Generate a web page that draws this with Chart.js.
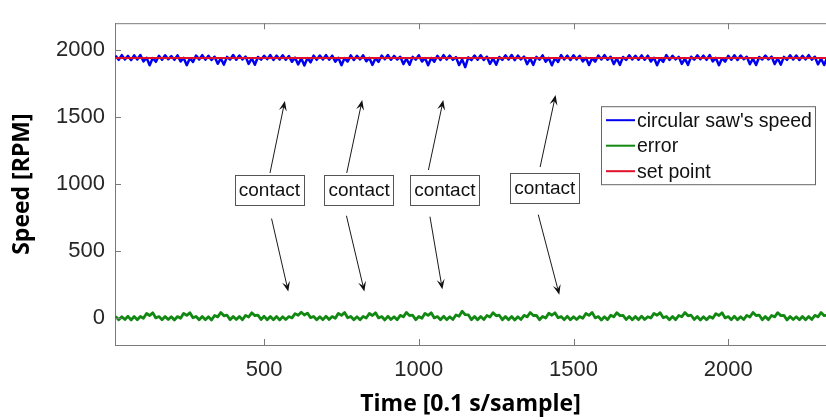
<!DOCTYPE html>
<html>
<head>
<meta charset="utf-8">
<script src="https://cdn.jsdelivr.net/npm/chart.js@4.4.1/dist/chart.umd.min.js"></script>
<style>
  html, body { margin: 0; padding: 0; background: #fff; }
  #wrap { width: 826px; height: 420px; }
</style>
</head>
<body>
<div id="wrap"><canvas id="speedChart" width="826" height="420"></canvas></div>
<script>
// --- Data ---

// time axis: one value every DT samples, starting at T0
const T0 = 20;
const DT = 10;
const X_MIN = 18;
const X_MAX = 2316;
const Y_MIN = -200;
const Y_MAX = 2200;
const xTickValues = [500, 1000, 1500, 2000];
const yTickValues = [0, 500, 1000, 1500, 2000];

const SET_POINT = 1940;

// circular saw speed [RPM] (noise band, dips at every contact)
const sawSpeed = [
  1958, 1927, 1962, 1930, 1956, 1925, 1960, 1929, 1963, 1915,
  1942, 1886, 1940, 1912, 1957, 1928, 1961, 1931, 1955, 1927,
  1960, 1914, 1941, 1887, 1939, 1911, 1959, 1930, 1962, 1928,
  1957, 1926, 1950, 1897, 1937, 1891, 1949, 1929, 1963, 1927,
  1959, 1930, 1951, 1896, 1938, 1890, 1948, 1928, 1957, 1931,
  1962, 1926, 1958, 1929, 1961, 1927, 1955, 1912, 1943, 1893,
  1938, 1884, 1940, 1908, 1958, 1927, 1959, 1930, 1962, 1928,
  1958, 1913, 1942, 1887, 1940, 1914, 1960, 1926, 1957, 1930,
  1961, 1916, 1941, 1889, 1938, 1912, 1959, 1931, 1962, 1927,
  1956, 1929, 1950, 1895, 1936, 1890, 1949, 1928, 1961, 1914,
  1940, 1886, 1941, 1913, 1957, 1926, 1962, 1930, 1958, 1927,
  1947, 1888, 1930, 1872, 1945, 1925, 1959, 1928, 1961, 1926,
  1950, 1896, 1937, 1890, 1948, 1927, 1960, 1929, 1963, 1925,
  1958, 1930, 1951, 1894, 1936, 1889, 1949, 1928, 1960, 1913,
  1941, 1886, 1939, 1911, 1962, 1929, 1958, 1926, 1961, 1930,
  1957, 1915, 1942, 1888, 1939, 1913, 1959, 1930, 1962, 1927,
  1950, 1895, 1937, 1889, 1948, 1926, 1961, 1929, 1957, 1928,
  1960, 1927, 1958, 1914, 1942, 1886, 1938, 1912, 1962, 1926,
  1957, 1930, 1949, 1896, 1936, 1889, 1950, 1928, 1960, 1931,
  1958, 1927, 1962, 1915, 1941, 1887, 1939, 1913, 1957, 1928,
  1961, 1926, 1959, 1931, 1950, 1894, 1935, 1888, 1948, 1929,
  1958, 1930, 1951, 1895, 1937, 1891, 1949, 1927, 1961, 1929,
  1959, 1926, 1957, 1930, 1962, 1928, 1950, 1893, 1936, 1888,
  1945
];

// error [RPM]
const errorSignal = [
  13, -12, 11, -10, 14, -13, 12, -11, 13, 0,
  35, 20, 40, 2, 12, -11, 13, -10, 11, -13,
  12, 0, 36, 21, 41, 3, 13, -12, 12, -11,
  11, -13, 20, 10, 42, 18, 22, -11, 13, -10,
  12, -12, 21, 9, 40, 19, 23, -10, 14, -12,
  12, -11, 13, -13, 11, -10, 12, 2, 34, 22,
  44, 24, 38, 4, 13, -12, 11, -11, 14, -10,
  12, 0, 36, 21, 42, 3, 13, -12, 11, -11,
  13, 1, 35, 20, 40, 2, 12, -13, 14, -10,
  11, -12, 21, 10, 43, 19, 22, -11, 13, 0,
  36, 21, 40, 2, 12, -12, 14, -11, 11, -10,
  24, 14, 52, 26, 25, -11, 13, -12, 12, -10,
  20, 9, 41, 18, 22, -12, 13, -11, 12, -13,
  11, -10, 21, 10, 42, 20, 21, -12, 13, 1,
  37, 22, 40, 3, 12, -11, 14, -12, 11, -10,
  13, 0, 35, 21, 43, 2, 12, -13, 11, -11,
  22, 10, 41, 19, 21, -10, 13, -12, 12, -11,
  14, -10, 11, 1, 36, 22, 41, 3, 13, -12,
  12, -11, 20, 11, 42, 18, 22, -10, 12, -13,
  11, -12, 13, 0, 34, 20, 40, 2, 12, -11,
  14, -12, 11, -10, 21, 9, 43, 20, 23, -12,
  13, -11, 20, 10, 41, 19, 21, -13, 12, -10,
  11, -12, 13, -11, 12, -10, 21, 10, 42, 19,
  22
];

// "contact" annotations, in data units (x = sample, y = RPM)
const contactX = [517, 807, 1084, 1407];
const contactY = [957, 955, 957, 972];
// arrows: [tailX, tailY, headX, headY]
const arrowsUp = [[519, 1083, 567, 1620], [767, 1083, 817, 1627], [1031, 1105, 1079, 1627], [1392, 1127, 1442, 1664]];
const arrowsDown = [[524, 743, 578, 199], [766, 764, 824, 199], [1036, 757, 1076, 215], [1386, 772, 1454, 175]];

// --- Styling ---
const AXIS_COLOR = '#7a7a7a';
const TICK_FONT = { family: "'Liberation Sans', Arial, sans-serif", size: 22 };
const TITLE_FONT = { family: "'Open Sans', sans-serif", size: 23, weight: 'bold' };

function toPoints(values) {
    return values.map((v, i) => ({ x: T0 + i * DT, y: v }));
}

function drawArrow(ctx, x1, y1, x2, y2) {
    const ang = Math.atan2(y2 - y1, x2 - x1);
    const len = 10, half = 4;
    ctx.beginPath();
    ctx.moveTo(x1, y1);
    ctx.lineTo(x2 - Math.cos(ang) * len * 0.6, y2 - Math.sin(ang) * len * 0.6);
    ctx.stroke();
    ctx.save();
    ctx.translate(x2, y2);
    ctx.rotate(ang);
    ctx.beginPath();
    ctx.moveTo(0, 0);
    ctx.lineTo(-len, -half);
    ctx.lineTo(-len * 0.6, 0);
    ctx.lineTo(-len, half);
    ctx.closePath();
    ctx.fill();
    ctx.restore();
}

// box ticks, arrows, text boxes and the legend
const decorPlugin = {
    id: 'decor',
    afterDatasetsDraw(chart) {
        const { ctx, chartArea: a, scales: { x, y } } = chart;
        ctx.save();

        // top edge of the box and inward ticks
        ctx.strokeStyle = AXIS_COLOR;
        ctx.lineWidth = 1;
        ctx.beginPath();
        ctx.moveTo(a.left, a.top + 0.5);
        ctx.lineTo(a.right, a.top + 0.5);
        x.ticks.forEach(t => {
            const px = Math.round(x.getPixelForValue(t.value)) + 0.5;
            ctx.moveTo(px, a.bottom);
            ctx.lineTo(px, a.bottom - 6);
            ctx.moveTo(px, a.top);
            ctx.lineTo(px, a.top + 6);
        });
        y.ticks.forEach(t => {
            const py = Math.round(y.getPixelForValue(t.value)) + 0.5;
            ctx.moveTo(a.left, py);
            ctx.lineTo(a.left + 6, py);
        });
        ctx.stroke();

        // arrows
        ctx.strokeStyle = '#1a1a1a';
        ctx.fillStyle = '#111';
        ctx.lineWidth = 1;
        arrowsUp.concat(arrowsDown).forEach(([tx, ty, hx, hy]) => {
            drawArrow(ctx,
                x.getPixelForValue(tx), y.getPixelForValue(ty),
                x.getPixelForValue(hx), y.getPixelForValue(hy));
        });

        // contact boxes
        ctx.font = "19px 'Liberation Sans', Arial, sans-serif";
        ctx.textAlign = 'center';
        ctx.textBaseline = 'middle';
        contactX.forEach((cx, i) => {
            const px = x.getPixelForValue(cx);
            const py = y.getPixelForValue(contactY[i]);
            const w = ctx.measureText('contact').width + 8;
            const h = 30;
            ctx.fillStyle = '#fff';
            ctx.fillRect(px - w / 2, py - h / 2, w, h);
            ctx.strokeStyle = '#555';
            ctx.strokeRect(Math.round(px - w / 2) + 0.5, Math.round(py - h / 2) + 0.5, Math.round(w), h);
            ctx.fillStyle = '#111';
            ctx.fillText('contact', px, py + 1);
        });

        // legend
        const lx = a.left + 486, ly = a.top + 83, lw = 214, lh = 78;
        ctx.fillStyle = '#fff';
        ctx.fillRect(lx, ly, lw, lh);
        ctx.strokeStyle = '#666';
        ctx.strokeRect(lx + 0.5, ly + 0.5, lw, lh);
        ctx.font = "19.5px 'Liberation Sans', Arial, sans-serif";
        ctx.textAlign = 'left';
        const legendOrder = [0, 1, 2];
        legendOrder.forEach((di, row) => {
            const ds = chart.data.datasets[di];
            const ry = ly + 14 + row * 25.5;
            ctx.strokeStyle = ds.borderColor;
            ctx.lineWidth = 2;
            ctx.beginPath();
            ctx.moveTo(lx + 5, ry);
            ctx.lineTo(lx + 34, ry);
            ctx.stroke();
            ctx.fillStyle = '#111';
            ctx.fillText(ds.label, lx + 36, ry + 1);
        });

        ctx.restore();
    }
};

new Chart(document.getElementById('speedChart'), {
    type: 'line',
    data: {
        datasets: [
            {
                label: "circular saw's speed",
                data: toPoints(sawSpeed),
                borderColor: '#0000f0',
                borderWidth: 2.5,
                borderJoinStyle: 'round',
                order: 1
            },
            {
                label: 'error',
                data: toPoints(errorSignal),
                borderColor: '#118811',
                borderWidth: 2.8,
                borderJoinStyle: 'round',
                order: 2
            },
            {
                label: 'set point',
                data: [{ x: X_MIN, y: SET_POINT }, { x: X_MAX, y: SET_POINT }],
                borderColor: '#e0102a',
                borderWidth: 2,
                order: 0
            }
        ]
    },
    options: {
        responsive: false,
        animation: false,
        elements: {
            point: { radius: 0 },
            line: { tension: 0 }
        },
        layout: { padding: { top: 14, right: 0, left: 0, bottom: 0 } },
        plugins: {
            legend: { display: false },
            tooltip: { enabled: false }
        },
        scales: {
            x: {
                type: 'linear',
                min: X_MIN,
                max: X_MAX,
                grid: { display: false, drawTicks: false },
                border: { display: true, color: AXIS_COLOR },
                afterBuildTicks: scale => { scale.ticks = xTickValues.map(v => ({ value: v })); },
                afterFit: scale => { scale.height = 75; },
                ticks: { font: TICK_FONT, color: '#262626', padding: 12, maxRotation: 0, autoSkip: false, callback: v => String(v) },
                title: { display: true, text: 'Time [0.1 s/sample]', font: TITLE_FONT, color: '#000', padding: { top: 0, bottom: 2 } }
            },
            y: {
                min: Y_MIN,
                max: Y_MAX,
                grid: { display: false, drawTicks: false },
                border: { display: true, color: AXIS_COLOR },
                afterBuildTicks: scale => { scale.ticks = yTickValues.map(v => ({ value: v })); },
                afterFit: scale => { scale.width = 115; },
                ticks: { font: TICK_FONT, color: '#262626', padding: 10, callback: v => String(v) },
                title: { display: true, text: 'Speed [RPM]', font: TITLE_FONT, color: '#000', padding: { top: 9, bottom: 0 } }
            }
        }
    },
    plugins: [decorPlugin]
});
</script>
</body>
</html>
